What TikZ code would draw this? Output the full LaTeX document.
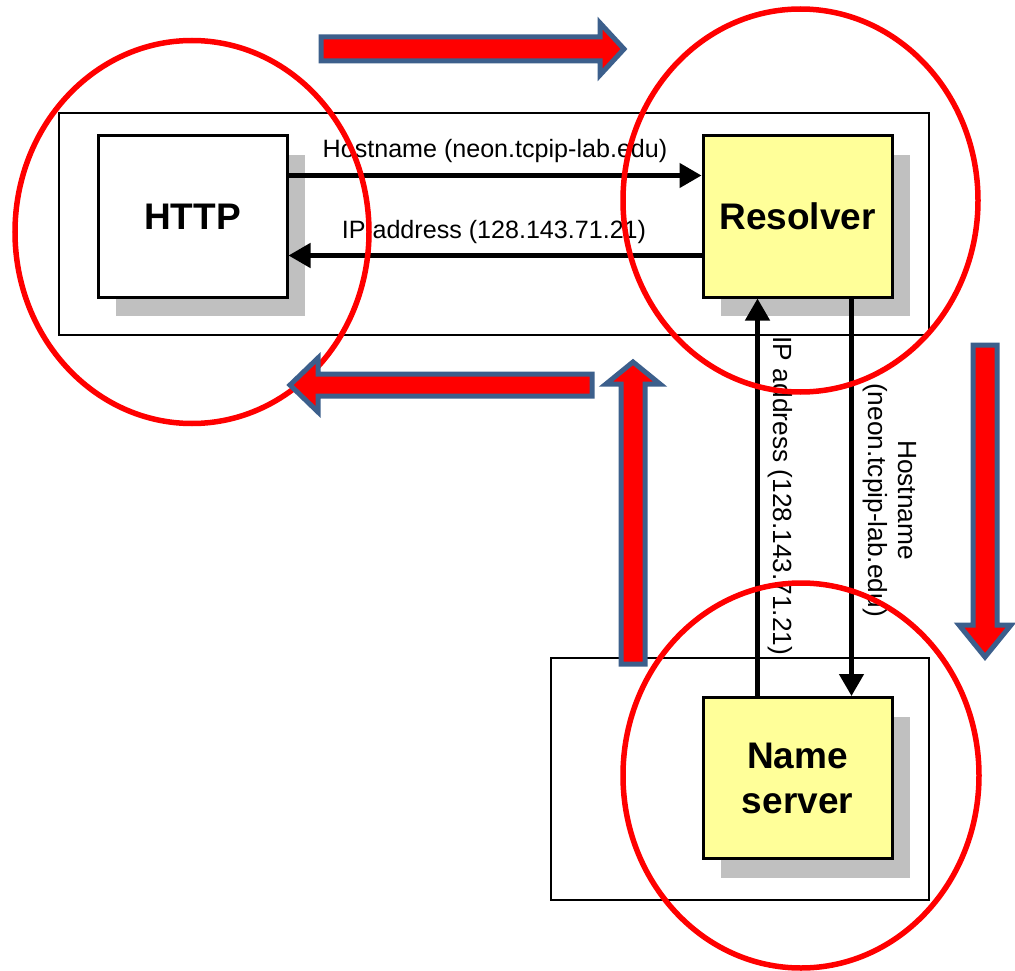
\documentclass[tikz,border=0pt]{standalone}
\usepackage{fontspec}
\setmainfont{Liberation Sans}
\usetikzlibrary{arrows.meta,shadows}

\definecolor{boxyellow}{RGB}{255,255,153}
\definecolor{shadowgray}{RGB}{192,192,192}
\definecolor{arrowblue}{RGB}{60,95,140}
\definecolor{ringred}{RGB}{255,0,0}

\begin{document}
\begin{tikzpicture}[x=1pt,y=-1pt,
  hostframe/.style={draw=black, line width=1.2pt, inner sep=0pt},
  procbox/.style={draw=black, line width=3pt, inner sep=0pt,
    minimum width=189pt, minimum height=161pt, align=center,
    font=\fontsize{37}{45}\selectfont\bfseries,
    drop shadow={shadow xshift=18pt, shadow yshift=-19pt,
      fill=shadowgray, opacity=1}},
  conn/.style={line width=4.6pt, line cap=round,
    -{Triangle[length=22pt,width=24pt]}},
  msg/.style={font=\fontsize{25.1}{30}\selectfont, inner sep=0pt},
  vmsg/.style={font=\fontsize{26.3}{30}\selectfont, inner sep=0pt,
    rotate=-90, align=center},
  ring/.style={draw=ringred, line width=5.5pt},
  blockarrow/.style={fill=ringred, draw=arrowblue, line width=5pt,
    line join=miter}]

\useasboundingbox (0,0) rectangle (1015,971);

% host frames
\node[hostframe, minimum width=870pt, minimum height=222pt] (client) at (494,224) {};
\node[hostframe, minimum width=378pt, minimum height=242pt] (server) at (740,779) {};

% processes
\node[procbox, fill=white] (http) at (192.5,216.5) {HTTP};
\node[procbox, fill=boxyellow] (res) at (797.5,216.5) {Resolver};
\node[procbox, fill=boxyellow] (ns) at (797.5,778) {Name\\server};

% messages between HTTP and the resolver
\draw[conn] ([shift={(0,41)}]http.north east) -- ([shift={(0,41)}]res.north west);
\draw[conn] ([shift={(0,121)}]res.north west) -- ([shift={(0,121)}]http.north east);
\node[msg, anchor=base] (qlabel) at (495,158) {Hostname (neon.tcpip-lab.edu)};
\node[msg, anchor=base] (alabel) at (494,238) {IP address (128.143.71.21)};

% messages between the resolver and the name server
\draw[conn] ([shift={(56,0)}]ns.north west) -- ([shift={(56,0)}]res.south west);
\draw[conn] ([shift={(150,0)}]res.south west) -- ([shift={(150,0)}]ns.north west);
\node[vmsg, anchor=base] (valabel) at (773,496) {IP address (128.143.71.21)};
\node[vmsg, anchor=center] (vqlabel) at (890,500) {Hostname\\(neon.tcpip-lab.edu)};

% highlight rings
\draw[ring] (192,232) ellipse [x radius=177pt, y radius=191.5pt];
\draw[ring] (800.5,200.5) ellipse [x radius=177.5pt, y radius=191.5pt];
\draw[ring] (801,775.5) ellipse [x radius=178pt, y radius=192.5pt];

% flow arrows
\draw[blockarrow] (321,37) -- (600,37) -- (600,23) -- (624,49) -- (600,75)
  -- (600,61) -- (321,61) -- cycle;
\draw[blockarrow] (973,345) -- (997,345) -- (997,625) -- (1011,625)
  -- (985,657) -- (959,625) -- (973,625) -- cycle;
\draw[blockarrow] (621,664) -- (621,384) -- (606,384) -- (633,362)
  -- (660,384) -- (645,384) -- (645,664) -- cycle;
\draw[blockarrow] (592,374) -- (318,374) -- (318,358) -- (290,385)
  -- (318,412) -- (318,396) -- (592,396) -- cycle;

\end{tikzpicture}
\end{document}
